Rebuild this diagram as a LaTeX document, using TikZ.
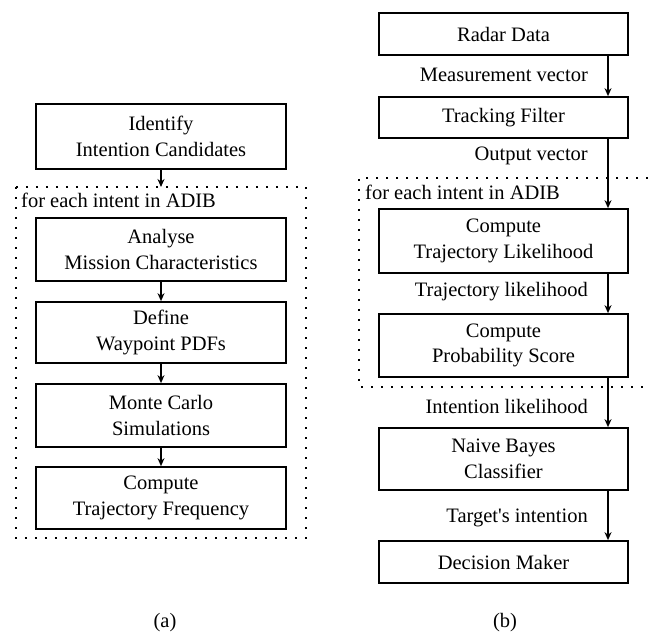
\documentclass[tikz,border=0pt]{standalone}
\usepackage{fontspec}
\setmainfont{Liberation Serif}
\usetikzlibrary{arrows.meta}
\begin{document}
\begin{tikzpicture}[x=1pt,y=-1pt,
  every node/.style={font=\fontsize{20.5}{25.5}\selectfont, inner sep=0pt},
  procbox/.style={draw, line width=1.7pt, minimum width=250pt, minimum height=63pt, align=center},
  shortbox/.style={procbox, minimum height=42pt},
  flow/.style={line width=1.5pt, -{Stealth[length=8pt,width=7pt]}},
  loopline/.style={line width=1.8pt, dash pattern=on 1.8pt off 8.2pt},
  edgelabel/.style={anchor=east}]
\useasboundingbox (0,0) rectangle (648,636);
% ---- panel (a)
\node[procbox, minimum height=65pt] (id) at (161,136.5) {Identify\\Intention Candidates};
\node[procbox] (an) at (161,249.5) {Analyse\\Mission Characteristics};
\node[procbox, minimum height=61pt] (de) at (161,332.5) {Define\\Waypoint PDFs};
\node[procbox] (mc) at (161,415.5) {Monte Carlo\\Simulations};
\node[procbox, minimum height=62pt] (tf) at (161,498) {Compute\\Trajectory Frequency};
\coordinate (looptopa) at (161,187);
\draw[loopline] (16,187) rectangle (306,538);
\node[anchor=west] (fea) at (21,200) {for each intent in ADIB};
\draw[flow] (id) -- (looptopa);
\draw[flow] (an) -- (de);
\draw[flow] (de) -- (mc);
\draw[flow] (mc) -- (tf);
\node (capa) at (165,623) {(a)};
% ---- panel (b)
\node[shortbox, minimum width=249pt] (rd) at (503.5,34) {Radar Data};
\node[shortbox, minimum width=249pt, minimum height=41pt] (tk) at (503.5,117.5) {Tracking Filter};
\node[procbox, minimum width=249pt, minimum height=64pt] (tl) at (503.5,241) {Compute\\Trajectory Likelihood};
\node[procbox, minimum width=249pt] (ps) at (503.5,345.5) {Compute\\Probability Score};
\node[procbox, minimum width=249pt, minimum height=62pt] (nb) at (503.5,459) {Naive Bayes\\Classifier};
\node[shortbox, minimum width=249pt] (dm) at (503.5,562) {Decision Maker};
\draw[loopline] (648,178) -- (359,178) -- (359,387) -- (648,387);
\node[anchor=west] (feb) at (365,192) {for each intent in ADIB};
\draw[flow] (rd.south -| 608,0) -- (tk.north -| 608,0);
\draw[flow] (tk.south -| 608,0) -- (tl.north -| 608,0);
\draw[flow] (tl.south -| 608,0) -- (ps.north -| 608,0);
\draw[flow] (ps.south -| 608,0) -- (nb.north -| 608,0);
\draw[flow] (nb.south -| 608,0) -- (dm.north -| 608,0);
\node[edgelabel] (l1) at (588,75) {Measurement vector};
\node[edgelabel] (l2) at (588,156) {Output vector};
\node[edgelabel] (l3) at (588,292) {Trajectory likelihood};
\node[edgelabel] (l4) at (588,406) {Intention likelihood};
\node[edgelabel] (l5) at (588,518) {Target\textquotesingle s intention};
\node (capb) at (505,623) {(b)};
\end{tikzpicture}
\end{document}
